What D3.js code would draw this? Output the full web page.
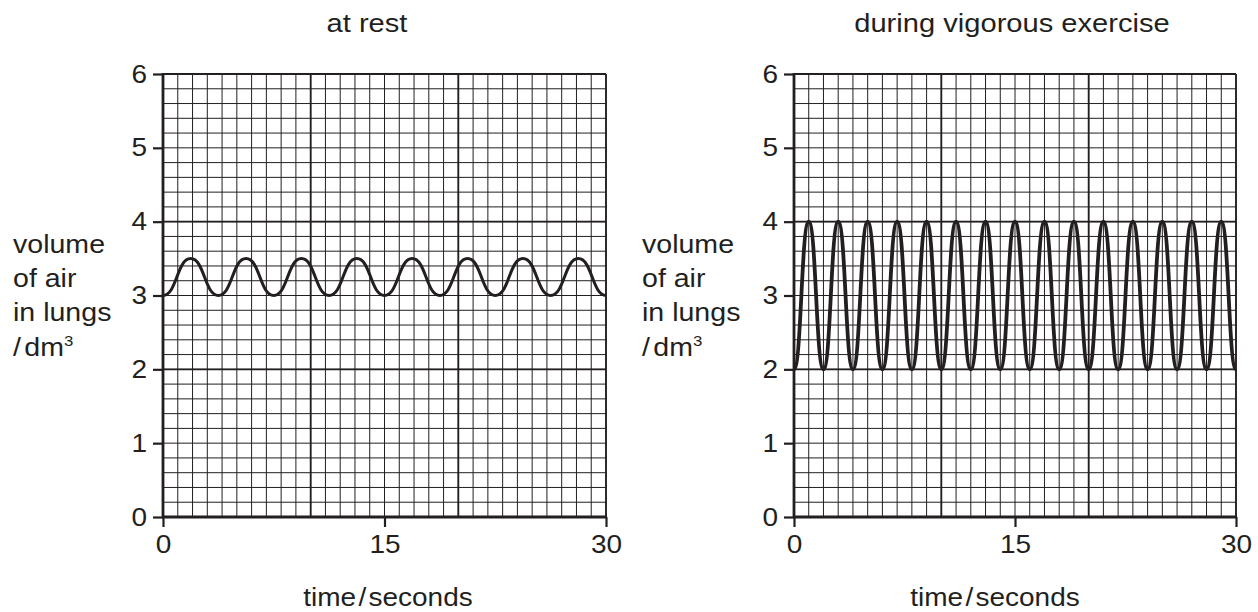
<!DOCTYPE html>
<html>
<head>
<meta charset="utf-8">
<script src="https://cdn.jsdelivr.net/npm/d3@7"></script>
<style>
  html, body { margin: 0; padding: 0; background: #fff; }
  svg { display: block; }
  text { font-family: "Liberation Sans", Arial, Helvetica, sans-serif; fill: #231f20; }
</style>
</head>
<body>
<svg id="chart" width="1258" height="612"></svg>
<script>
// ---- data ----
const titles = ["at rest", "during vigorous exercise"];
const xTickValues = [0, 15, 30];
const yTickValues = [0, 1, 2, 3, 4, 5, 6];
const yLabelLines = ["volume", "of air", "in lungs"];
const yUnit = ["/", "dm", "3"];
const xLabelParts = ["time", "/", "seconds"];

// at rest: turning points (troughs and peaks) of the trace
const restTimes = [0, 1.875, 3.75, 5.625, 7.5, 9.375, 11.25, 13.125, 15,
                   16.875, 18.75, 20.625, 22.5, 24.375, 26.25, 28.125, 30];
const restVolumes = [3, 3.5, 3, 3.5, 3, 3.5, 3, 3.5, 3,
                     3.5, 3, 3.5, 3, 3.5, 3, 3.5, 3];

// vigorous exercise: turning points of the trace
const exTimes = [0, 1, 2, 3, 4, 5, 6, 7, 8, 9, 10, 11, 12, 13, 14, 15,
                 16, 17, 18, 19, 20, 21, 22, 23, 24, 25, 26, 27, 28, 29, 30];
const exVolumes = [2, 4, 2, 4, 2, 4, 2, 4, 2, 4, 2, 4, 2, 4, 2, 4,
                   2, 4, 2, 4, 2, 4, 2, 4, 2, 4, 2, 4, 2, 4, 2];

// ---- layout ----
const ink = "#231f20";
const SX = 1.12; // horizontal stretch of the lettering
const panels = [
  { x0: 163, x1: 606, titleX: 367, xLabelX: 388, yLabelX: 13, times: restTimes, vols: restVolumes, sw: 3 },
  { x0: 794, x1: 1236, titleX: 1012, xLabelX: 995, yLabelX: 642, times: exTimes, vols: exVolumes, sw: 3.8 }
];
const yTop = 74, yBottom = 517;

const svg = d3.select("#chart");

function stretchedText(parent, x, y, anchor, size) {
  const g = parent.append("g").attr("transform", `translate(${x},${y}) scale(${SX},1)`);
  return g.append("text").attr("x", 0).attr("y", 0).attr("text-anchor", anchor).attr("font-size", size);
}

panels.forEach((p, i) => {
  const x = d3.scaleLinear().domain([0, 30]).range([p.x0, p.x1]);
  const y = d3.scaleLinear().domain([0, 6]).range([yBottom, yTop]);
  const g = svg.append("g");

  // minor grid
  const minorX = d3.range(0, 31, 1);
  const minorY = d3.range(0, 30.5, 1).map(k => k * 0.2);
  g.append("g").selectAll("line").data(minorX).join("line")
    .attr("x1", d => x(d)).attr("x2", d => x(d))
    .attr("y1", yTop).attr("y2", yBottom)
    .attr("stroke", ink).attr("stroke-width", 1);
  g.append("g").selectAll("line").data(minorY).join("line")
    .attr("y1", d => y(d)).attr("y2", d => y(d))
    .attr("x1", p.x0).attr("x2", p.x1)
    .attr("stroke", ink).attr("stroke-width", 1);

  // major grid
  g.append("g").selectAll("line").data([10, 20, 30]).join("line")
    .attr("x1", d => x(d)).attr("x2", d => x(d))
    .attr("y1", yTop).attr("y2", yBottom)
    .attr("stroke", ink).attr("stroke-width", 1.8);
  g.append("g").selectAll("line").data([2, 4, 6]).join("line")
    .attr("y1", d => y(d)).attr("y2", d => y(d))
    .attr("x1", p.x0).attr("x2", p.x1)
    .attr("stroke", ink).attr("stroke-width", 1.8);

  // axes
  const yAxis = d3.axisLeft(y).tickValues(yTickValues).tickSize(10).tickPadding(6).tickFormat(d3.format("d"));
  const ya = g.append("g").attr("transform", `translate(${p.x0},0)`).call(yAxis);
  ya.select(".domain").remove();
  ya.selectAll(".tick line").attr("stroke", ink).attr("stroke-width", 2.2);
  ya.selectAll(".tick text").attr("font-size", 25).attr("fill", ink)
    .attr("font-family", '"Liberation Sans", Arial, sans-serif')
    .attr("x", -16 / SX).attr("transform", `scale(${SX},1)`);

  const xAxis = d3.axisBottom(x).tickValues(xTickValues).tickSize(10).tickPadding(8).tickFormat(d3.format("d"));
  const xa = g.append("g").attr("transform", `translate(0,${yBottom})`).call(xAxis);
  xa.select(".domain").remove();
  xa.selectAll(".tick line").attr("stroke", ink).attr("stroke-width", 2.2);
  xa.selectAll(".tick text").attr("font-size", 25).attr("fill", ink)
    .attr("font-family", '"Liberation Sans", Arial, sans-serif')
    .attr("transform", `scale(${SX},1)`);

  // axis lines
  g.append("line").attr("x1", p.x0).attr("x2", p.x0).attr("y1", yTop - 1).attr("y2", yBottom + 1)
    .attr("stroke", ink).attr("stroke-width", 2.8);
  g.append("line").attr("x1", p.x0 - 1).attr("x2", p.x1 + 1).attr("y1", yBottom).attr("y2", yBottom)
    .attr("stroke", ink).attr("stroke-width", 2.8);

  // trace
  const pts = p.times.map((t, k) => [t, p.vols[k]]);
  const line = d3.line().x(d => x(d[0])).y(d => y(d[1])).curve(d3.curveBumpX);
  g.append("path").attr("d", line(pts)).attr("fill", "none")
    .attr("stroke", ink).attr("stroke-width", p.sw).attr("stroke-linejoin", "round");

  // title
  stretchedText(g, p.titleX, 32, "middle", 26).text(titles[i]);

  // x label
  const xl = stretchedText(g, p.xLabelX, 606, "middle", 25);
  xl.append("tspan").text(xLabelParts[0]);
  xl.append("tspan").attr("dx", 2).text(xLabelParts[1]);
  xl.append("tspan").attr("dx", 2).text(xLabelParts[2]);

  // y label
  const baselines = [253, 287, 321, 356];
  yLabelLines.forEach((s, k) => {
    stretchedText(g, p.yLabelX, baselines[k], "start", 25.5).text(s);
  });
  const u = stretchedText(g, p.yLabelX, baselines[3], "start", 25.5);
  u.append("tspan").text(yUnit[0]);
  u.append("tspan").attr("dx", 3).text(yUnit[1]);
  u.append("tspan").attr("font-size", 15).attr("dy", -10).text(yUnit[2]);
});
</script>
</body>
</html>
